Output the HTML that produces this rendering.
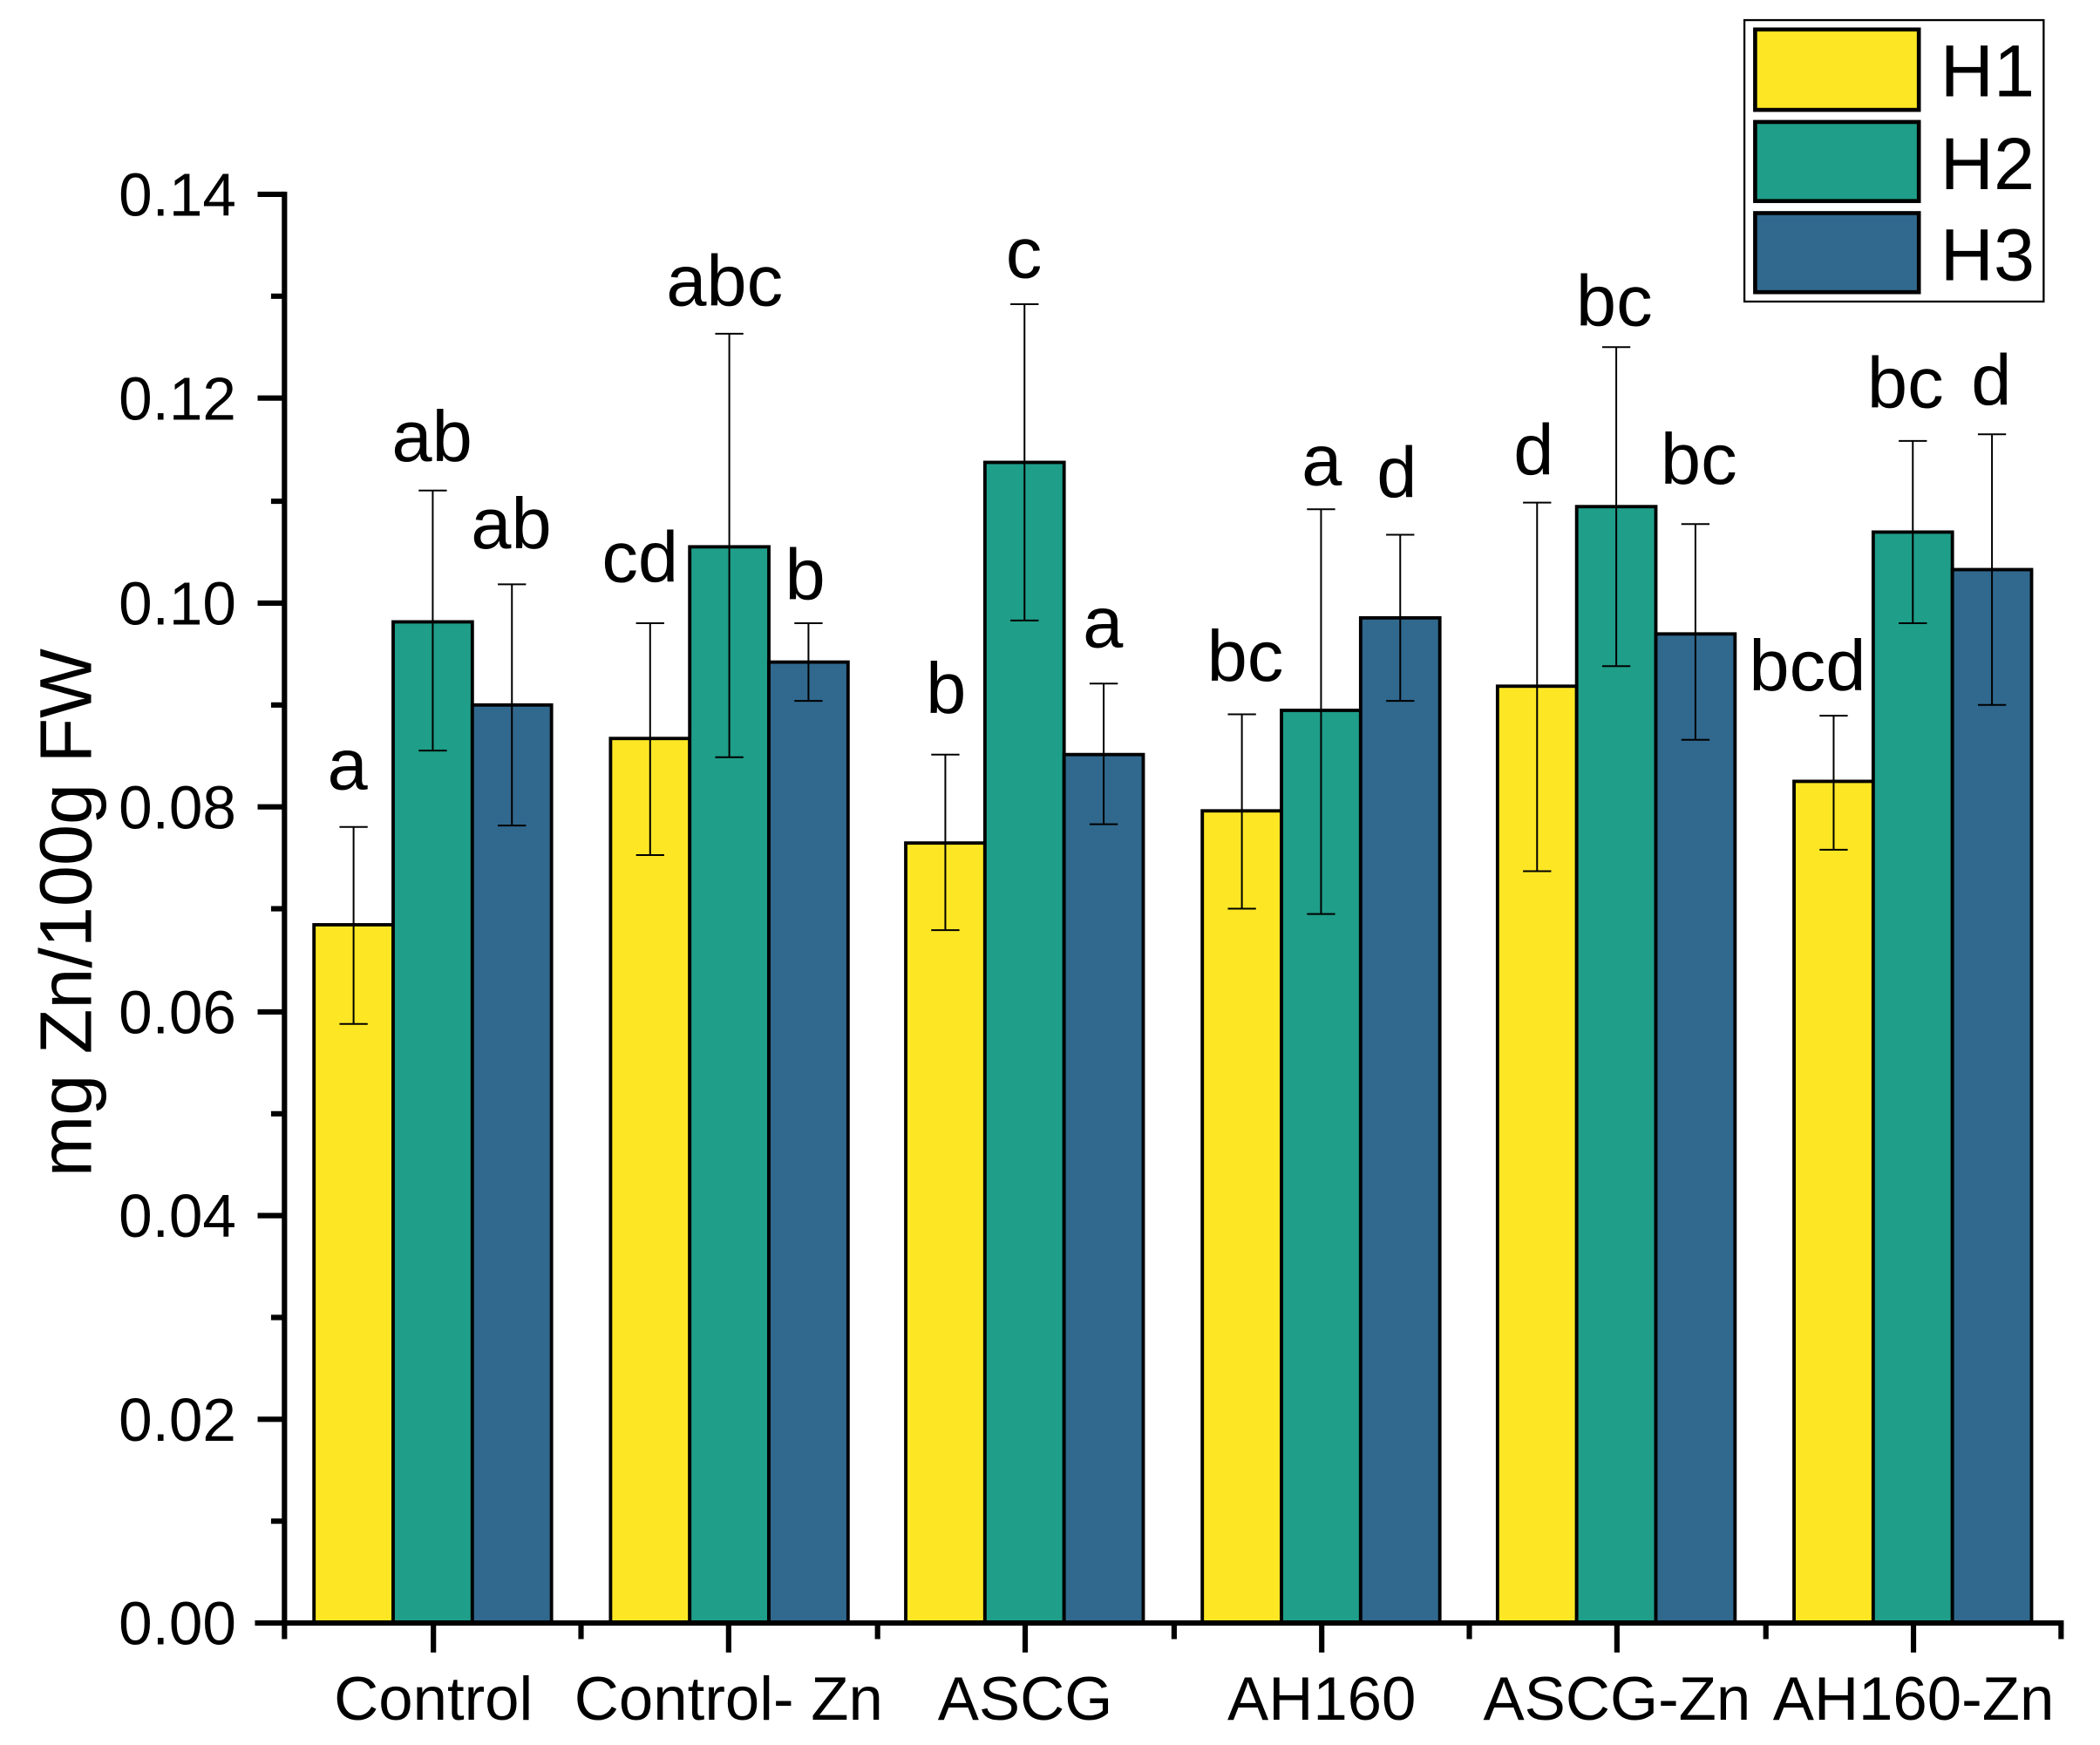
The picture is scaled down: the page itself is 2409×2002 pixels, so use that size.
<!DOCTYPE html>
<html><head><meta charset="utf-8"><style>
html,body{margin:0;padding:0;background:#fff}
svg{display:block}
text{font-family:"Liberation Sans",Arial,sans-serif;fill:#000}
</style></head><body>
<svg width="2409" height="2002" viewBox="0 0 1565 1302" preserveAspectRatio="none" xmlns="http://www.w3.org/2000/svg">
<rect width="1565" height="1302" fill="#fff"/>
<g stroke="#000" stroke-width="2.5">
<rect x="234" y="690" width="59" height="521" fill="#FDE725"/>
<rect x="293" y="464" width="59" height="747" fill="#1F9E89"/>
<rect x="352" y="526" width="59" height="685" fill="#31688E"/>
<rect x="455" y="551" width="59" height="660" fill="#FDE725"/>
<rect x="514" y="408" width="59" height="803" fill="#1F9E89"/>
<rect x="573" y="494" width="59" height="717" fill="#31688E"/>
<rect x="675" y="629" width="59" height="582" fill="#FDE725"/>
<rect x="734" y="345" width="59" height="866" fill="#1F9E89"/>
<rect x="793" y="563" width="59" height="648" fill="#31688E"/>
<rect x="896" y="605" width="59" height="606" fill="#FDE725"/>
<rect x="955" y="530" width="59" height="681" fill="#1F9E89"/>
<rect x="1014" y="461" width="59" height="750" fill="#31688E"/>
<rect x="1116" y="512" width="59" height="699" fill="#FDE725"/>
<rect x="1175" y="378" width="59" height="833" fill="#1F9E89"/>
<rect x="1234" y="473" width="59" height="738" fill="#31688E"/>
<rect x="1337" y="583" width="59" height="628" fill="#FDE725"/>
<rect x="1396" y="397" width="59" height="814" fill="#1F9E89"/>
<rect x="1455" y="425" width="59" height="786" fill="#31688E"/>
</g>
<g stroke="#000" stroke-width="1.3" fill="none">
<path d="M263.5 617V764M253 617h21M253 764h21"/>
<path d="M322.5 366V560M312 366h21M312 560h21"/>
<path d="M381.5 436V616M371 436h21M371 616h21"/>
<path d="M484.5 465V638M474 465h21M474 638h21"/>
<path d="M543.5 249V565M533 249h21M533 565h21"/>
<path d="M602.5 465V523M592 465h21M592 523h21"/>
<path d="M704.5 563V694M694 563h21M694 694h21"/>
<path d="M763.5 227V463M753 227h21M753 463h21"/>
<path d="M822.5 510V615M812 510h21M812 615h21"/>
<path d="M925.5 533V678M915 533h21M915 678h21"/>
<path d="M984.5 380V682M974 380h21M974 682h21"/>
<path d="M1043.5 399V523M1033 399h21M1033 523h21"/>
<path d="M1145.5 375V650M1135 375h21M1135 650h21"/>
<path d="M1204.5 259V497M1194 259h21M1194 497h21"/>
<path d="M1263.5 391V552M1253 391h21M1253 552h21"/>
<path d="M1366.5 534V634M1356 534h21M1356 634h21"/>
<path d="M1425.5 329V465M1415 329h21M1415 465h21"/>
<path d="M1484.5 324V526M1474 324h21M1474 526h21"/>
</g>
<g stroke="#000" stroke-width="4" fill="none">
<path d="M212 143V1213"/>
<path d="M190 1211H1538"/>
<path d="M192 145h20M192 297h20M192 450h20M192 602h20M192 755h20M192 907h20M192 1059h20"/>
<path d="M202 221h10M202 374h10M202 526h10M202 678h10M202 831h10M202 983h10M202 1135h10"/>
<path d="M323 1211v22M543 1211v22M764 1211v22M985 1211v22M1205 1211v22M1426 1211v22"/>
<path d="M212 1211v12M433 1211v12M654 1211v12M875 1211v12M1095 1211v12M1316 1211v12M1536 1211v12"/>
</g>
<g font-size="45" text-anchor="end">
<text x="176" y="161">0.14</text>
<text x="176" y="313">0.12</text>
<text x="176" y="466">0.10</text>
<text x="176" y="618">0.08</text>
<text x="176" y="771">0.06</text>
<text x="176" y="923">0.04</text>
<text x="176" y="1075">0.02</text>
<text x="176" y="1227">0.00</text>
</g>
<text transform="translate(68,681) rotate(-90)" font-size="55" text-anchor="middle">mg Zn/100g FW</text>
<g font-size="46" text-anchor="middle">
<text x="323" y="1283">Control</text>
<text x="543" y="1283">Control- Zn</text>
<text x="764" y="1283">ASCG</text>
<text x="985" y="1283">AH160</text>
<text x="1205" y="1283">ASCG-Zn</text>
<text x="1426" y="1283">AH160-Zn</text>
</g>
<g font-size="54" text-anchor="middle">
<text x="259" y="589">a</text>
<text x="322" y="344">ab</text>
<text x="381" y="409">ab</text>
<text x="477" y="434">cd</text>
<text x="540" y="228">abc</text>
<text x="600" y="447">b</text>
<text x="705" y="532">b</text>
<text x="763" y="207">c</text>
<text x="822" y="483">a</text>
<text x="928" y="508">bc</text>
<text x="985" y="362">a</text>
<text x="1041" y="371">d</text>
<text x="1143" y="354">d</text>
<text x="1203" y="243">bc</text>
<text x="1266" y="361">bc</text>
<text x="1347" y="515">bcd</text>
<text x="1420" y="304">bc</text>
<text x="1484" y="302">d</text>
</g>
<rect x="1300" y="15" width="223" height="210" fill="#fff" stroke="#000" stroke-width="1.5"/>
<g stroke="#000" stroke-width="3">
<rect x="1308" y="22" width="122" height="60" fill="#FDE725"/>
<rect x="1308" y="91" width="122" height="59" fill="#1F9E89"/>
<rect x="1308" y="159" width="122" height="59" fill="#31688E"/>
</g>
<g font-size="55">
<text x="1446" y="72">H1</text>
<text x="1446" y="141">H2</text>
<text x="1446" y="209">H3</text>
</g>
</svg>
</body></html>
